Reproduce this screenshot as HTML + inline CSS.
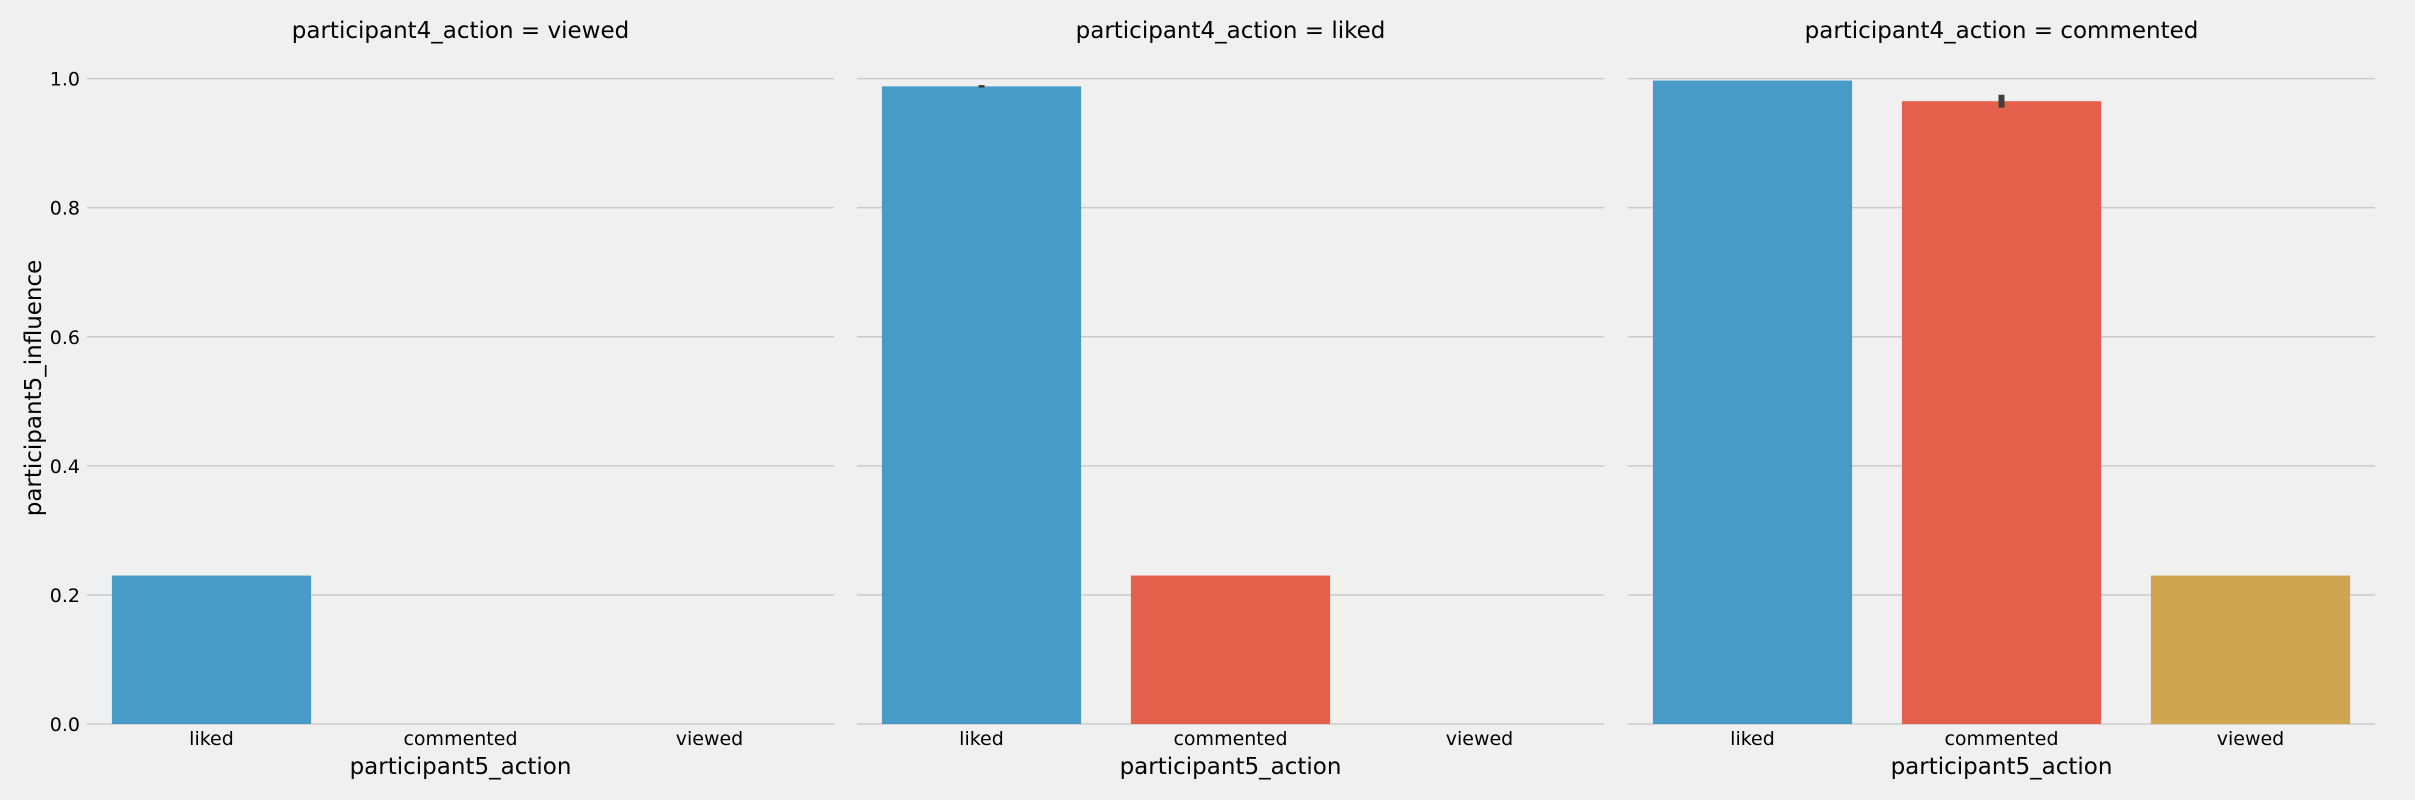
<!DOCTYPE html>
<html><head><meta charset="utf-8"><style>
html,body{margin:0;padding:0;background:#f0f0f0;}
svg{display:block;font-family:"DejaVu Sans","Liberation Sans",sans-serif;}
</style></head><body>
<svg id="chart" width="2415" height="800" xmlns="http://www.w3.org/2000/svg"></svg>
<script>
const panelTitles = ["participant4_action = viewed","participant4_action = liked","participant4_action = commented"];
const categories = ["liked","commented","viewed"];
const viewedValues = [0.23, null, null];
const likedValues = [0.988, 0.23, null];
const commentedValues = [0.997, 0.965, 0.23];
const commentedErrLow = [null, 0.955, null];
const commentedErrHigh = [null, 0.975, null];
const likedErrLow = [0.986, null, null];
const likedErrHigh = [0.990, null, null];
const yTicks = [0.0, 0.2, 0.4, 0.6, 0.8, 1.0];
const yTickLabels = ["0.0","0.2","0.4","0.6","0.8","1.0"];

const colors = ["#469bc7","#e4604a","#d0a54f"];
const panels = [
  {vals: viewedValues, lo:[null,null,null], hi:[null,null,null]},
  {vals: likedValues, lo: likedErrLow, hi: likedErrHigh},
  {vals: commentedValues, lo: commentedErrLow, hi: commentedErrHigh}
];
const svg = document.getElementById('chart');
const NS = "http://www.w3.org/2000/svg";
function mk(tag, attrs, parent){const e=document.createElementNS(NS,tag);for(const k in attrs)e.setAttribute(k,attrs[k]);(parent||svg).appendChild(e);return e;}
const panelX0 = [87, 857, 1628], panelW = 747;
const yTop = 78.6, yBot = 724;
function yScale(v){return yBot - v*(yBot-yTop);}
function xBand(p,i){return panelX0[p] + panelW/categories.length*(i+0.5);}
const bandW = panelW/categories.length;

panels.forEach((pd,p)=>{
  const g = mk('g',{});
  
  
  yTicks.forEach((t,k)=>{
    const l = mk('line',{x1:panelX0[p],x2:panelX0[p]+panelW,y1:yScale(t),y2:yScale(t),stroke:'#cbcbcb','stroke-width':1.5},g);
    
    
    if(p===0){
      const tx = mk('text',{x:80,y:yScale(t)+7,'text-anchor':'end','font-size':19,fill:'#000'},g);
      tx.textContent = yTickLabels[k];
      
      
    }
  });
  pd.vals.forEach((v,i)=>{
    if(v!==null){
      const r = mk('rect',{x:xBand(p,i)-bandW*0.4,y:yScale(v),width:bandW*0.8,height:yScale(0)-yScale(v),fill:colors[i]},g);
      
      
    }
    if(pd.lo[i]!==null){
      const e = mk('line',{x1:xBand(p,i),x2:xBand(p,i),y1:yScale(pd.hi[i]),y2:yScale(pd.lo[i]),stroke:'#3f3f3f','stroke-width':6},g);
      
      
    }
    const tl = mk('text',{x:xBand(p,i),y:745,'text-anchor':'middle','font-size':19,fill:'#000'},g);
    tl.textContent = categories[i];
    
    
  });
  const tt = mk('text',{x:panelX0[p]+panelW/2,y:38,'text-anchor':'middle','font-size':23,fill:'#000'},g);
  tt.textContent = panelTitles[p];
  
  
  const xl = mk('text',{x:panelX0[p]+panelW/2,y:774,'text-anchor':'middle','font-size':23,fill:'#000'},g);
  xl.textContent = 'participant5_action';
  
  
});
const yl = mk('text',{x:0,y:0,'text-anchor':'middle','font-size':23,fill:'#000',transform:'translate(41,388) rotate(-90)'});
yl.textContent = 'participant5_influence';


</script>
</body></html>
